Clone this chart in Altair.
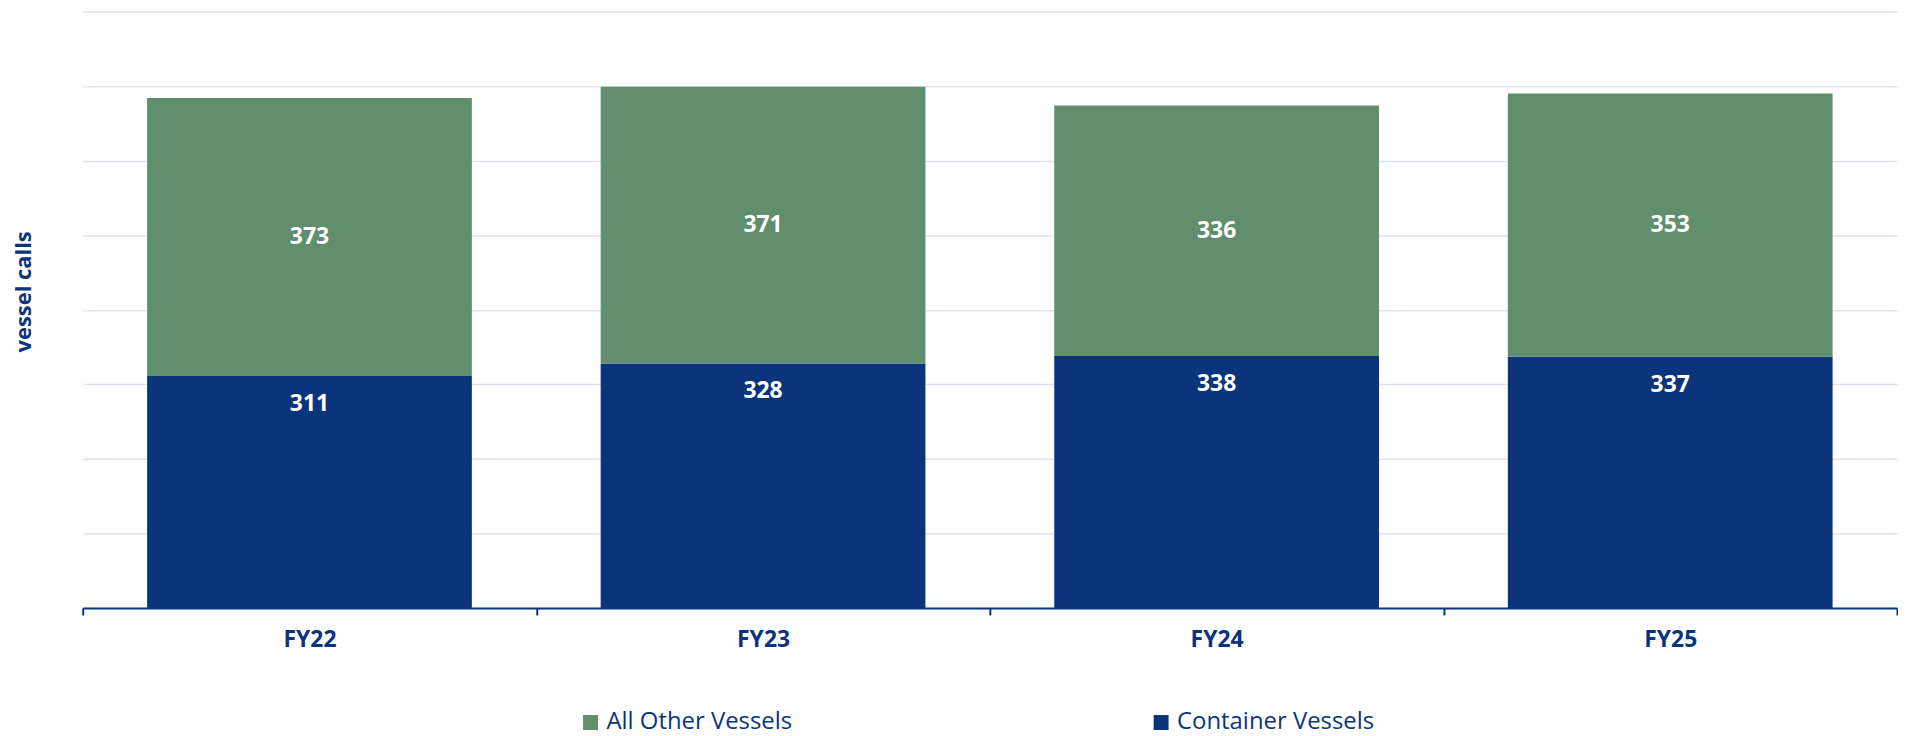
import altair as alt
import pandas as pd

years = ["FY22", "FY23", "FY24", "FY25"]
container_vessels = [311, 328, 338, 337]
other_vessels = [373, 371, 336, 353]
series = ["All Other Vessels", "Container Vessels"]
colors = ["#618E6C", "#0B347A"]
y_ticks = [0, 100, 200, 300, 400, 500, 600, 700, 800]

rows = []
for i, yr in enumerate(years):
    rows.append({"year": yr, "type": "Container Vessels", "value": container_vessels[i], "rank": 0})
    rows.append({"year": yr, "type": "All Other Vessels", "value": other_vessels[i], "rank": 1})
df = pd.DataFrame(rows)

DARK = "#0B347A"
FONT = "Open Sans"

x_enc = alt.X(
    "year:N",
    sort=years,
    title=None,
    scale=alt.Scale(paddingInner=0, paddingOuter=0),
)

base = alt.Chart(df)

bars = base.mark_bar(width=alt.RelativeBandSize(0.716)).encode(
    x=x_enc,
    y=alt.Y(
        "value:Q",
        stack="zero",
        title="vessel calls",
        scale=alt.Scale(domain=[0, 800], nice=False),
        axis=alt.Axis(values=y_ticks),
    ),
    color=alt.Color(
        "type:N",
        scale=alt.Scale(domain=series, range=colors),
        legend=alt.Legend(
            title=None,
            orient="none",
            direction="horizontal",
            legendX=498,
            legendY=702,
            symbolType="square",
            symbolSize=225,
            symbolStrokeWidth=0,
            labelFont=FONT,
            labelFontSize=24,
            labelColor=DARK,
            labelOffset=4,
            columnPadding=358,
            labelLimit=400,
        ),
    ),
    order=alt.Order("rank:Q", sort="ascending"),
)

stacked = base.transform_stack(
    stack="value",
    groupby=["year"],
    as_=["v0", "v1"],
    sort=[alt.SortField("rank", order="ascending")],
)

lab_container = stacked.transform_filter(
    "datum.type == 'Container Vessels'"
).mark_text(
    font=FONT, fontWeight="bold", fontSize=23, color="white", baseline="middle", dy=28
).encode(
    x=x_enc,
    y=alt.Y("v1:Q", title="vessel calls"),
    text="value:Q",
)

lab_other = stacked.transform_filter(
    "datum.type == 'All Other Vessels'"
).transform_calculate(
    mid="(datum.v0 + datum.v1) / 2"
).mark_text(
    font=FONT, fontWeight="bold", fontSize=23, color="white", baseline="middle"
).encode(
    x=x_enc,
    y=alt.Y("mid:Q", title="vessel calls"),
    text="value:Q",
)

chart = alt.layer(bars, lab_container, lab_other).properties(
    width=1822,
    height=599,
    autosize=alt.AutoSizeParams(type="none"),
    padding={"left": 75, "top": 2, "right": 1, "bottom": 126},
).configure_view(
    stroke=None
).configure_axisX(
    domainColor=DARK,
    domainWidth=2,
    tickColor=DARK,
    tickWidth=2,
    tickSize=7,
    tickBand="extent",
    labelFont=FONT,
    labelFontWeight="bold",
    labelFontSize=23,
    labelColor=DARK,
    labelPadding=14,
    labelAngle=0,
    grid=False,
).configure_axisY(
    labels=False,
    ticks=False,
    domain=False,
    grid=True,
    gridColor="#DCE2EE",
    gridWidth=1.5,
    titleFont=FONT,
    titleFontWeight="bold",
    titleFontSize=22,
    titleColor=DARK,
    titleAngle=-90,
    titleX=-59,
    titleY=281,
    titleBaseline="middle",
    titleAlign="center",
)

chart.save("out.html", embed_options={"renderer": "svg", "actions": False})
